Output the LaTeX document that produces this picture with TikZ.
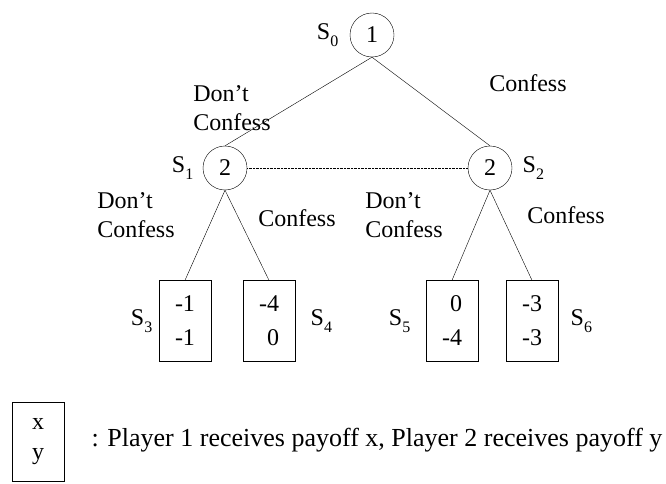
\documentclass[tikz,border=0pt]{standalone}
\usepackage{fontspec}
\setmainfont{Liberation Serif}
\usetikzlibrary{positioning}

% state label with a low subscript
\newcommand{\stlabel}[1]{S\raisebox{-0.3em}{\fontsize{16}{16}\selectfont #1}}

\tikzset{
    player/.style={circle, draw, minimum size=44pt, inner sep=0pt},
    payoff/.style={draw, minimum width=52pt, minimum height=81pt, align=right, inner sep=0pt,
        font=\fontsize{24}{34}\selectfont},
    move/.style={align=left},
    info/.style={densely dotted},
}

\begin{document}
\begin{tikzpicture}[x=1pt, y=-1pt, font=\fontsize{24}{29}\selectfont]
    \useasboundingbox (0,0) rectangle (666,484);

    % decision nodes
    \node[player] (p1) at (372,35) {1};
    \node[player] (p2a) at (225,168) {2};
    \node[player] (p2b) at (490,168) {2};

    % payoff boxes
    \node[payoff] (o3) at (185,321) {-1\\-1};
    \node[payoff] (o4) at (269,321) {-4\\0};
    \node[payoff] (o5) at (452,321) {0\\-4};
    \node[payoff] (o6) at (532,321) {-3\\-3};

    % state labels
    \node[left=8pt of p1] {\stlabel{0}};
    \node[left=6pt of p2a] {\stlabel{1}};
    \node[right=7pt of p2b] {\stlabel{2}};
    \node[left=3pt of o3] {\stlabel{3}};
    \node[right=12pt of o4] {\stlabel{4}};
    \node[left=12pt of o5] {\stlabel{5}};
    \node[right=9pt of o6] {\stlabel{6}};

    % moves
    \draw (p1.south) -- (p2a.north);
    \draw (p1.south) -- (p2b.north);
    \draw (p2a.south) -- (o3.north);
    \draw (p2a.south) -- (o4.north);
    \draw (p2b.south) -- (o5.north);
    \draw (p2b.south) -- (o6.north);
    \draw[info] (p2a) -- (p2b);

    \node[move] (m1) at (232,108) {Don't\\Confess};
    \node[move] (m2) at (528,83) {Confess};
    \node[move] (m3) at (136,215) {Don't\\Confess};
    \node[move] (m4) at (297,218) {Confess};
    \node[move] (m5) at (404,215) {Don't\\Confess};
    \node[move] (m6) at (566,215) {Confess};

    % legend
    \node[draw, minimum width=52pt, minimum height=79pt, inner sep=0pt, align=center,
        font=\fontsize{24}{30}\selectfont] (key) at (38,442) {x\\y};
    \node[anchor=west, font=\fontsize{26}{30}\selectfont] (keytext) at (88,440)
        {: Player 1 receives payoff x, Player 2 receives payoff y};
\end{tikzpicture}
\end{document}
